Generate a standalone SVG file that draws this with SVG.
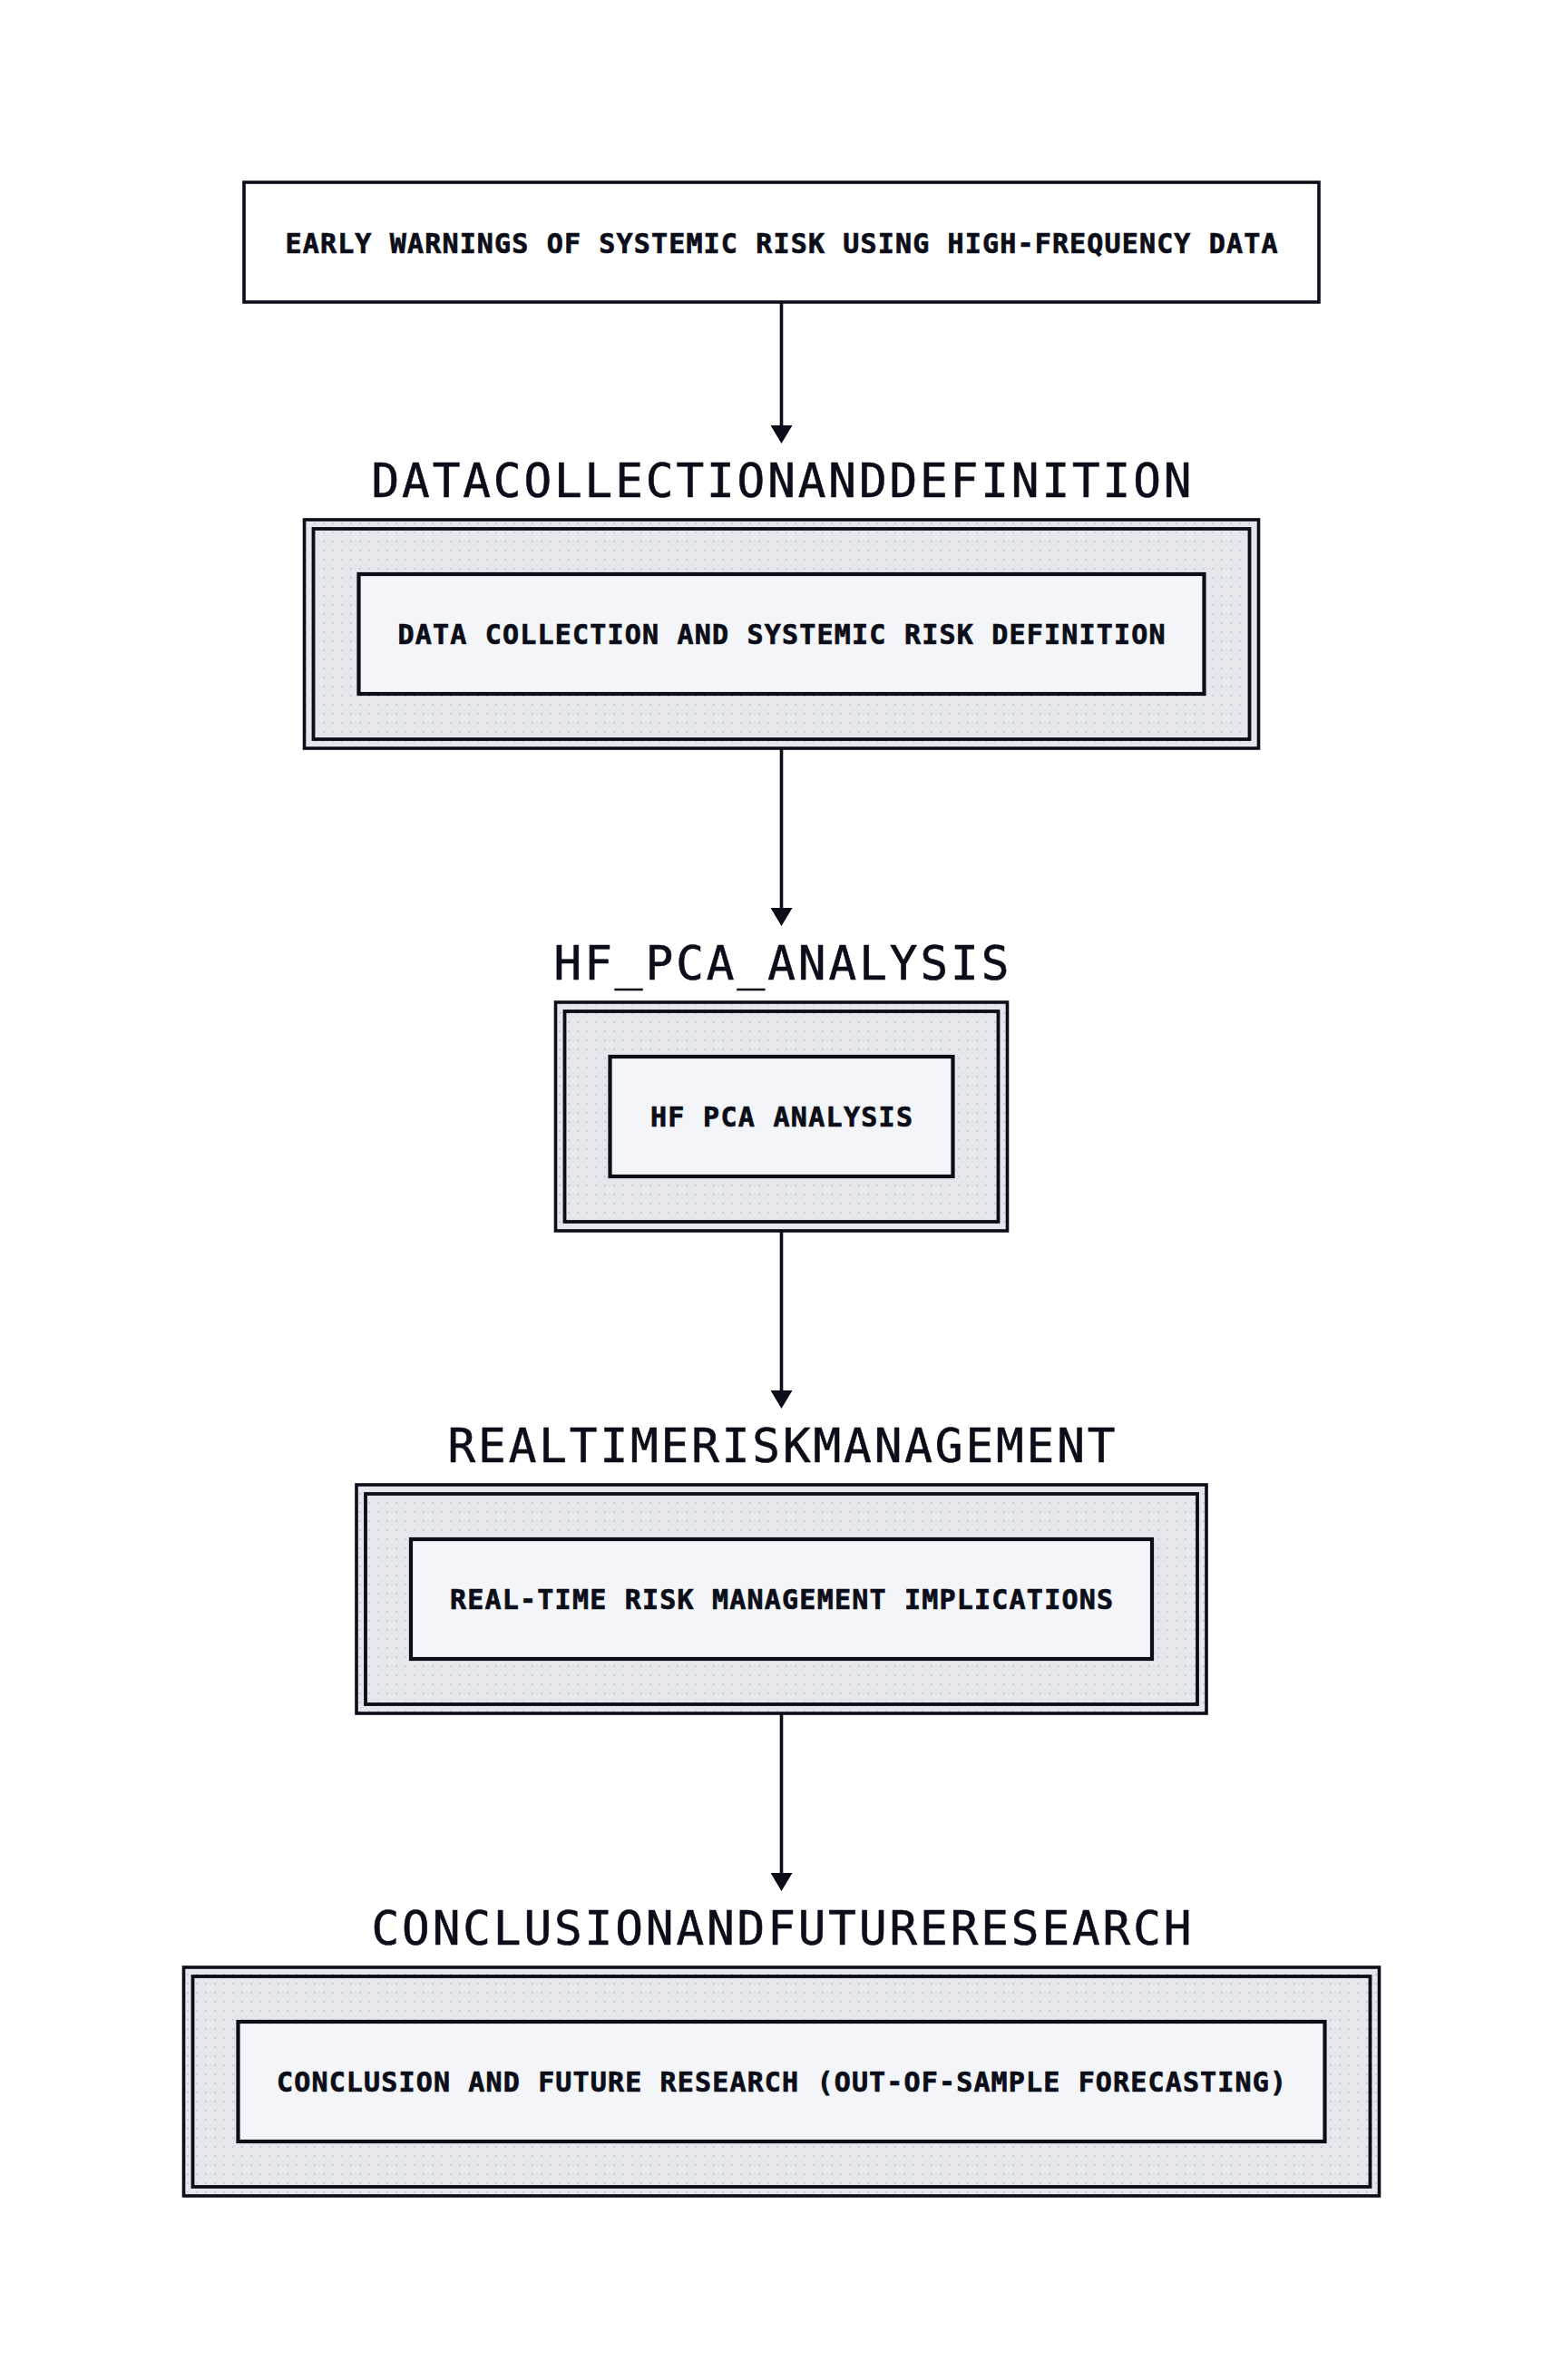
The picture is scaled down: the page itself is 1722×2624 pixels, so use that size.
<svg xmlns="http://www.w3.org/2000/svg" width="1722" height="2624" viewBox="0 0 1722 2624">
  <style>
    .frame { fill: url(#dots); stroke: #0b0d18; stroke-width: 3.6; }
    .inner { fill: none; stroke: #0b0d18; stroke-width: 3.8; }
    .node { fill: #f4f5f9; stroke: #0b0d18; stroke-width: 4.2; }
    .top { fill: #ffffff; stroke: #0b0d18; stroke-width: 3.6; }
    .label { font-family: "DejaVu Sans Mono", "Liberation Mono", monospace; font-weight: bold; font-size: 30px; fill: #0b0d18; text-anchor: middle; stroke: #0b0d18; stroke-width: 0.7; }
    .title { font-family: "DejaVu Sans Mono", "Liberation Mono", monospace; font-size: 51px; fill: #0b0d18; text-anchor: middle; stroke: #0b0d18; stroke-width: 0.6; }
    .edge { stroke: #0b0d18; stroke-width: 3.6; fill: none; }
  </style>
  <defs>
    <pattern id="dots" patternUnits="userSpaceOnUse" x="0" y="0" width="10" height="10">
      <rect width="10" height="10" fill="#e6e7ec"/>
      <rect x="6" y="6" width="2" height="2" fill="#cdcfd8"/>
    </pattern>
    <marker id="arrow" viewBox="0 0 20 24" markerWidth="20" markerHeight="24" refX="10" refY="12" markerUnits="userSpaceOnUse" orient="auto">
      <path d="M0,0 L20,12 L0,24 z" fill="#0b0d18"/>
    </marker>
  </defs>
  <rect width="1722" height="2624" fill="#ffffff"/>

  <g id="connectors">
    <path class="edge" d="M861.5,334 L861.5,479" marker-end="url(#arrow)"/>
    <path class="edge" d="M861.5,826 L861.5,1011" marker-end="url(#arrow)"/>
    <path class="edge" d="M861.5,1358 L861.5,1543" marker-end="url(#arrow)"/>
    <path class="edge" d="M861.5,1890 L861.5,2075" marker-end="url(#arrow)"/>
  </g>

  <g id="node-top">
    <rect class="top" x="269" y="201" width="1185" height="132"/>
    <text class="label" x="861.5" y="279" textLength="1094" lengthAdjust="spacing">EARLY WARNINGS OF SYSTEMIC RISK USING HIGH-FREQUENCY DATA</text>
  </g>

  <g id="cluster-datacollection">
    <text class="title" x="861.5" y="548" textLength="904" lengthAdjust="spacing">DATACOLLECTIONANDDEFINITION</text>
    <rect class="frame" x="335.5" y="573" width="1052" height="252"/>
    <rect class="inner" x="345.5" y="583" width="1032" height="232"/>
    <g id="node-datacollection">
      <rect class="node" x="395.5" y="633" width="932" height="132"/>
      <text class="label" x="861.5" y="710" textLength="846" lengthAdjust="spacing">DATA COLLECTION AND SYSTEMIC RISK DEFINITION</text>
    </g>
  </g>

  <g id="cluster-hfpca">
    <text class="title" x="861.5" y="1080" textLength="502" lengthAdjust="spacing">HF_PCA_ANALYSIS</text>
    <rect class="frame" x="612.5" y="1105" width="498" height="252"/>
    <rect class="inner" x="622.5" y="1115" width="478" height="232"/>
    <g id="node-hfpca">
      <rect class="node" x="672.5" y="1165" width="378" height="132"/>
      <text class="label" x="861.5" y="1242" textLength="289" lengthAdjust="spacing">HF PCA ANALYSIS</text>
    </g>
  </g>

  <g id="cluster-realtime">
    <text class="title" x="861.5" y="1612" textLength="736" lengthAdjust="spacing">REALTIMERISKMANAGEMENT</text>
    <rect class="frame" x="393" y="1637" width="937" height="252"/>
    <rect class="inner" x="403" y="1647" width="917" height="232"/>
    <g id="node-realtime">
      <rect class="node" x="453" y="1697" width="817" height="132"/>
      <text class="label" x="861.5" y="1774" textLength="731" lengthAdjust="spacing">REAL-TIME RISK MANAGEMENT IMPLICATIONS</text>
    </g>
  </g>

  <g id="cluster-conclusion">
    <text class="title" x="861.5" y="2144" textLength="904" lengthAdjust="spacing">CONCLUSIONANDFUTURERESEARCH</text>
    <rect class="frame" x="202.5" y="2169" width="1318" height="252"/>
    <rect class="inner" x="212.5" y="2179" width="1298" height="232"/>
    <g id="node-conclusion">
      <rect class="node" x="262.5" y="2229" width="1198" height="132"/>
      <text class="label" x="861.5" y="2306" textLength="1113" lengthAdjust="spacing">CONCLUSION AND FUTURE RESEARCH (OUT-OF-SAMPLE FORECASTING)</text>
    </g>
  </g>
</svg>
